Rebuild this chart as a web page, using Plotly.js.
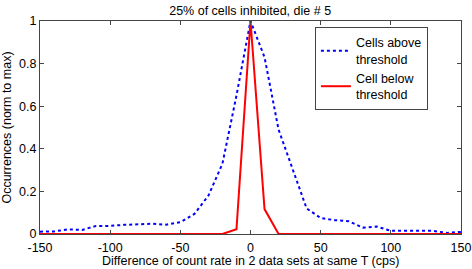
<!DOCTYPE html>
<html><head><meta charset="utf-8">
<script src="https://cdn.plot.ly/plotly-3.0.1.min.js"></script>
<style>html,body{margin:0;padding:0;background:#fff}#chart{width:472px;height:269px}</style>
</head><body><div id="chart"></div>
<script>
const xBins = [-150,-140,-130,-120,-110,-100,-90,-80,-70,-60,-50,-40,-30,-20,-10,0,10,20,30,40,50,60,70,80,90,100,110,120,130,140,150];
const cellsAbove = [0.011,0.012,0.022,0.019,0.038,0.038,0.043,0.046,0.048,0.044,0.055,0.094,0.18,0.33,0.65,1,0.83,0.49,0.30,0.12,0.075,0.065,0.06,0.03,0.035,0.015,0.015,0.015,0.015,0.005,0.01];
const cellBelow = [0,0,0,0,0,0,0,0,0,0,0,0,0,0,0.022,1,0.117,0,0,0,0,0,0,0,0,0,0,0,0,0,0];
const xTicks = [-150,-100,-50,0,50,100,150];
const yTicks = [0,0.2,0.4,0.6,0.8,1];
const yTickText = ['0','0.2','0.4','0.6','0.8','1'];
const xTitle = 'Difference of count rate in 2 data sets at same T (cps)';

const fam = 'Liberation Sans, Arial, sans-serif';
const font = {family:fam, size:12.5, color:'#000'};
const tickFont = {family:fam, size:12.5, color:'#000'};
const traces = [
  {x:xBins, y:cellsAbove, type:'scatter', mode:'lines', name:'Cells above<br>threshold',
   line:{color:'#0000ff', width:2, dash:'dot'}},
  {x:xBins, y:cellBelow, type:'scatter', mode:'lines', name:'Cell below<br>threshold',
   line:{color:'#ff0000', width:2}}
];
const axisCommon = {showgrid:false, zeroline:false, showline:true, mirror:'ticks', linecolor:'#444', linewidth:1,
  ticks:'inside', ticklen:4, tickcolor:'#444', tickfont:tickFont, automargin:false};
const layout = {
  width:472, height:269,
  margin:{l:40, r:11, t:21, b:35},
  paper_bgcolor:'#fff', plot_bgcolor:'#fff',
  font:font,
  title:{text:'25% of cells inhibited, die # 5', font:font, x:0.53, xanchor:'center', y:0.978, yanchor:'top'},
  xaxis:{...axisCommon, range:[-150,150], tickvals:xTicks, ticktext:xTicks.map(String), ticklabelstandoff:2},
  yaxis:{...axisCommon, range:[0,1], tickvals:yTicks, ticktext:yTickText,
    title:{text:'Occurrences (norm to max)', font:font, standoff:5}},
  annotations:[{text:xTitle, xref:'paper', yref:'paper', x:0.5, y:0, yshift:-35, xanchor:'center', yanchor:'bottom',
    showarrow:false, font:font, borderpad:0}],
  showlegend:true,
  legend:{x:0.653, y:0.972, xanchor:'left', yanchor:'top', bgcolor:'#fff', bordercolor:'#444', borderwidth:1,
    font:font, tracegroupgap:0}
};
Plotly.newPlot('chart', traces, layout, {displayModeBar:false, staticPlot:true});
</script></body></html>
